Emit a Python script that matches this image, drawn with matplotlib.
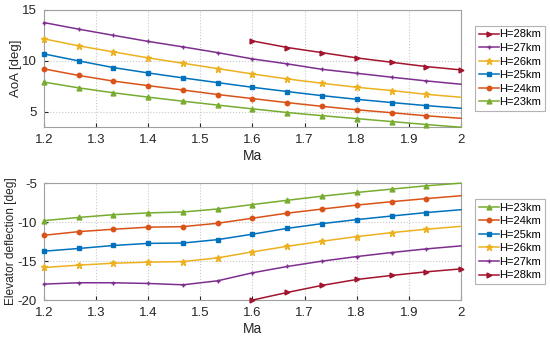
"""AoA and elevator deflection trim curves versus Mach number."""
import matplotlib

matplotlib.use("Agg")
import matplotlib.pyplot as plt

plt.rcParams["font.family"] = ["Liberation Sans", "DejaVu Sans"]
plt.rcParams["axes.unicode_minus"] = False

MA = [1.2, 1.267, 1.333, 1.4, 1.467, 1.533, 1.6, 1.667, 1.733, 1.8, 1.867, 1.933, 2.0]
MA_28 = [1.6, 1.667, 1.733, 1.8, 1.867, 1.933, 2.0]

AOA = {
    "H=28km": [11.95, 11.3, 10.8, 10.28, 9.85, 9.43, 9.1],
    "H=27km": [13.75, 13.1, 12.5, 11.9, 11.36, 10.8, 10.18, 9.69, 9.16, 8.77, 8.38, 8.02, 7.69],
    "H=26km": [12.15, 11.46, 10.87, 10.28, 9.75, 9.23, 8.7, 8.21, 7.79, 7.39, 7.07, 6.7, 6.41],
    "H=25km": [10.67, 9.98, 9.33, 8.8, 8.31, 7.85, 7.39, 6.97, 6.57, 6.21, 5.89, 5.59, 5.33],
    "H=24km": [9.2, 8.55, 8.0, 7.55, 7.12, 6.68, 6.28, 5.88, 5.52, 5.18, 4.89, 4.59, 4.34],
    "H=23km": [7.9, 7.33, 6.85, 6.42, 6.02, 5.64, 5.27, 4.91, 4.6, 4.31, 4.02, 3.73, 3.46],
}

ELEV = {
    "H=23km": [-9.81, -9.4, -9.05, -8.82, -8.7, -8.32, -7.75, -7.2, -6.68, -6.2, -5.77, -5.35, -5.0],
    "H=24km": [-11.69, -11.22, -10.92, -10.65, -10.58, -10.15, -9.5, -8.85, -8.33, -7.82, -7.38, -6.99, -6.62],
    "H=25km": [-13.73, -13.38, -13.0, -12.73, -12.68, -12.25, -11.55, -10.8, -10.2, -9.68, -9.22, -8.78, -8.41],
    "H=26km": [-15.82, -15.52, -15.27, -15.14, -15.06, -14.59, -13.82, -13.1, -12.46, -11.86, -11.35, -10.92, -10.54],
    "H=27km": [-17.95, -17.78, -17.78, -17.87, -18.04, -17.53, -16.5, -15.69, -15.01, -14.42, -13.9, -13.44, -13.05],
    "H=28km": [-20.0, -19.02, -18.12, -17.36, -16.84, -16.38, -16.0],
}

STYLE = {
    "H=28km": ("#A2142F", ">", 3.5),
    "H=27km": ("#7E2F8E", "+", 3.5),
    "H=26km": ("#EDB120", "*", 4.5),
    "H=25km": ("#0072BD", "s", 3.0),
    "H=24km": ("#D95319", "o", 3.2),
    "H=23km": ("#77AC30", "^", 3.5),
}


def _panel(ax, data, ylabel, ylabel_size, ylabel_x, ylim, yticks):
    for name, vals in data.items():
        color, marker, ms = STYLE[name]
        x = MA_28 if name == "H=28km" else MA
        every = slice(0, None) if name == "H=28km" else slice(0, -1)
        ax.plot(x, vals, color=color, marker=marker, markersize=ms, markevery=every,
                linewidth=1.1, label=name, clip_on=False, zorder=3)
    ax.set_xlim(1.2, 2.0)
    ax.set_ylim(*ylim)
    ax.set_yticks(yticks)
    ax.set_xticks([1.2, 1.3, 1.4, 1.5, 1.6, 1.7, 1.8, 1.9, 2.0])
    ax.set_xticklabels(["1.2", "1.3", "1.4", "1.5", "1.6", "1.7", "1.8", "1.9", "2"])
    ax.grid(True, linestyle=":", color="#c8c8c8", linewidth=0.8)
    ax.tick_params(direction="in", labelsize=9.5, colors="#262626", length=3, pad=5)
    for s in ax.spines.values():
        s.set_color("#a0a0a0")
        s.set_linewidth(0.8)
    ax.set_xlabel("Ma", fontsize=10, color="#262626", labelpad=2)
    ax.set_ylabel(ylabel, fontsize=ylabel_size, color="#262626", va="center")
    ax.yaxis.set_label_coords(ylabel_x, 0.5)
    leg = ax.legend(loc="center left", bbox_to_anchor=(1.033, 0.5), fontsize=8,
                    fancybox=False, edgecolor="#a0a0a0", handlelength=1.8,
                    handletextpad=0.05, borderpad=0.35, labelspacing=0.32,
                    borderaxespad=0.0)
    leg.get_frame().set_linewidth(0.8)


fig = plt.figure(figsize=(5.5, 3.41), dpi=100)
ax1 = fig.add_axes([0.08, 0.628, 0.758, 0.343])
ax2 = fig.add_axes([0.08, 0.120, 0.758, 0.343])

_panel(ax1, AOA, "AoA [deg]", 9.5, -0.066, (3.5, 15), [5, 10, 15])
_panel(ax2, ELEV, "Elevator deflection [deg]", 8.6, -0.08, (-20, -5), [-20, -15, -10, -5])

fig.savefig("out.png", dpi=100)
